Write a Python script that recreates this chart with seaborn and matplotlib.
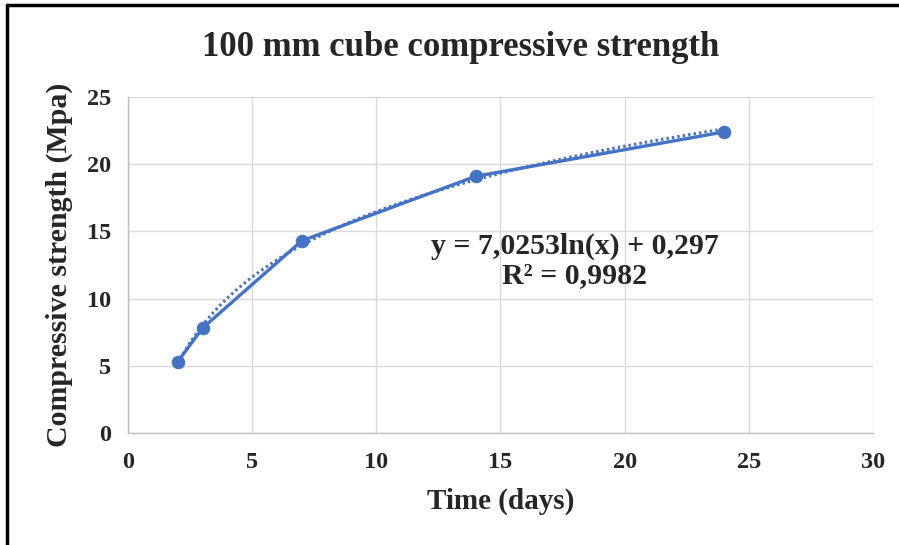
import numpy as np
import pandas as pd
import seaborn as sns
import matplotlib.pyplot as plt
from matplotlib.lines import Line2D

# Data
days = [2, 3, 7, 14, 24]
strength = [5.3, 7.8, 14.3, 19.1, 22.4]
trend_a = 7.0253
trend_b = 0.297
r2_text = "R² = 0,9982"
eq_text = "y = 7,0253ln(x) + 0,297"
x_ticks = [0, 5, 10, 15, 20, 25, 30]
y_ticks = [0, 5, 10, 15, 20, 25]

sns.set_theme(style="white")
plt.rcParams['font.family'] = ['Liberation Serif', 'DejaVu Serif']

fig = plt.figure(figsize=(8.99, 5.45), dpi=100)
ax = fig.add_axes([0.1424, 0.2055, 0.8286, 0.6165])

blue = "#4472C4"
df = pd.DataFrame({"Time": days, "Strength": strength})

# trendline from the displayed equation
tx = np.linspace(min(days), max(days), 200)
ty = trend_a * np.log(tx) + trend_b
ax.plot(tx, ty, linestyle=(0, (0.8, 1.0)), color=blue, linewidth=2.2, zorder=3)

sns.lineplot(data=df, x="Time", y="Strength", ax=ax, color=blue, linewidth=2.4,
             marker="o", markersize=9, markeredgecolor=blue, zorder=4)

ax.set_xlim(0, 30)
ax.set_ylim(0, 25)
ax.set_xticks(x_ticks)
ax.set_yticks(y_ticks)
ax.grid(True, color="#d9d9d9", linewidth=1)
for s in ["top", "right"]:
    ax.spines[s].set_visible(False)
for s in ["left", "bottom"]:
    ax.spines[s].set_color("#bfbfbf")
    ax.spines[s].set_linewidth(1)
ax.tick_params(axis="x", length=0, labelsize=17.5, pad=14)
ax.tick_params(axis="y", length=0, labelsize=17.5, pad=12)
for lab in ax.get_xticklabels() + ax.get_yticklabels():
    lab.set_fontweight("bold")

ax.set_xlabel("Time (days)", fontsize=21, fontweight="bold", labelpad=10)
ax.set_ylabel("Compressive strength (Mpa)", fontsize=21.5, fontweight="bold", labelpad=10)

fig.text(0.512, 0.913, "100 mm cube compressive strength", ha="center", va="center",
         fontsize=25, fontweight="bold")

ax.text(18.0, 12.8, eq_text + "\n" + r2_text, ha="center", va="center",
        fontsize=21.5, fontweight="bold", linespacing=1.1)

# outer frame: top and left edges only, as in the reference
fig.lines.append(Line2D([0.008, 1.0], [0.99, 0.99], transform=fig.transFigure,
                        color="black", linewidth=2.5))
fig.lines.append(Line2D([0.008, 0.008], [0.0, 0.99], transform=fig.transFigure,
                        color="black", linewidth=2.5))

fig.savefig("out.png", dpi=100)
